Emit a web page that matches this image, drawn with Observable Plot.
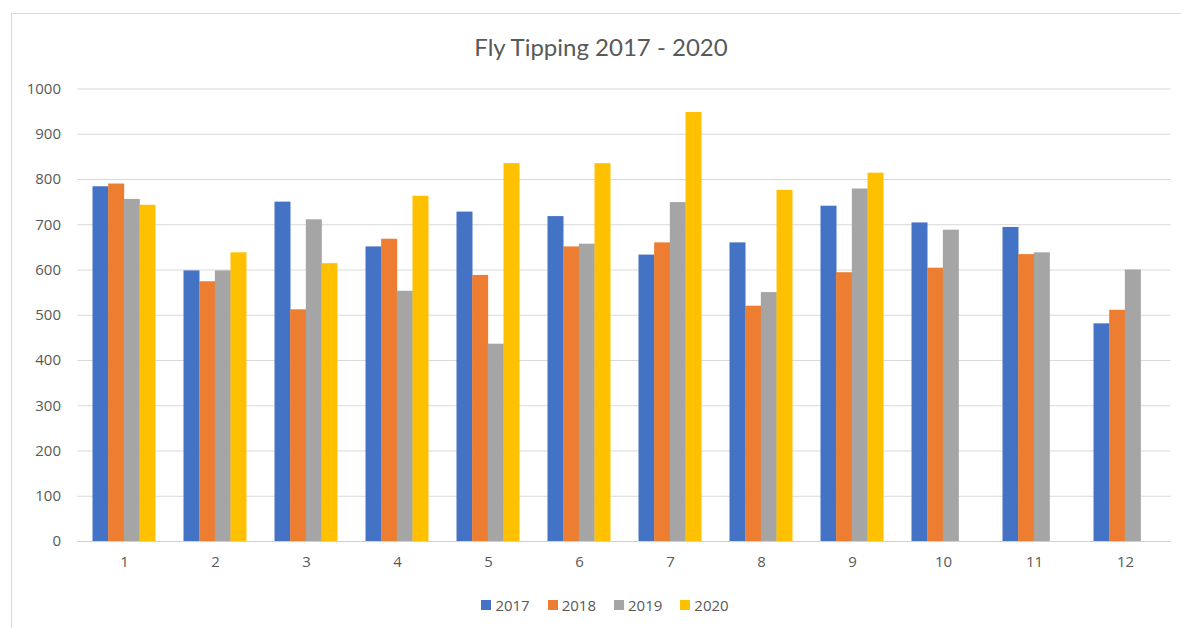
<!DOCTYPE html>
<html>
<head>
<meta charset="utf-8">
<script src="https://cdn.jsdelivr.net/npm/d3@7"></script>
<script src="https://cdn.jsdelivr.net/npm/@observablehq/plot@0.6"></script>
<style>
  html, body { margin: 0; padding: 0; background: #fff; }
  body { width: 1181px; height: 628px; position: relative; overflow: hidden; font-family: "Open Sans", sans-serif; }
  #frame { position: absolute; left: 11px; top: 13px; width: 1200px; height: 700px; border: 1px solid #d9d9d9; box-sizing: border-box; }
  #title { position: absolute; left: 0; width: 1202px; top: 32px; text-align: center; font-family: Lato, sans-serif; font-size: 24px; color: #595959; }
  #chart { position: absolute; left: 0; top: 70px; }
  #legend { position: absolute; left: 0; width: 1210px; top: 595px; display: flex; justify-content: center; font-size: 15px; color: #595959; }
  .item { display: flex; align-items: center; margin: 0 9px; }
  .sw { width: 10px; height: 10px; margin-right: 4px; }
</style>
</head>
<body>
<div id="frame"></div>
<div id="title">Fly Tipping 2017 - 2020</div>
<div id="chart"></div>
<div id="legend"></div>
<script>
const months = [1, 2, 3, 4, 5, 6, 7, 8, 9, 10, 11, 12];
const years = ["2017", "2018", "2019", "2020"];
const colors = ["#4472C4", "#ED7D31", "#A5A5A5", "#FFC000"];
const v2017 = [784, 598, 750, 651, 728, 718, 633, 660, 741, 704, 694, 481];
const v2018 = [790, 574, 512, 668, 588, 651, 660, 520, 594, 604, 634, 511];
const v2019 = [756, 598, 711, 553, 436, 657, 749, 550, 779, 688, 638, 600];
const v2020 = [743, 638, 614, 763, 835, 835, 948, 776, 814, null, null, null];
const yTicks = [0, 100, 200, 300, 400, 500, 600, 700, 800, 900, 1000];

const series = [v2017, v2018, v2019, v2020];
const data = [];
years.forEach((yr, i) => months.forEach((m, j) => {
  if (series[i][j] != null) data.push({month: m, year: yr, value: series[i][j]});
}));

const width = 1181, mL = 77.5, mR = 10.5;
const padInner = 0.828;
const bw = (width - mL - mR) / months.length * (1 - padInner);

const marks = [
  Plot.gridY(yTicks, {stroke: "#d9d9d9", strokeOpacity: 1, strokeWidth: 1}),
  ...years.map((yr, i) => Plot.barY(data.filter(d => d.year === yr), {
    x: "month", y: "value", fill: colors[i], dx: (i - 1.5) * bw
  })),
  Plot.ruleY([0], {stroke: "#d0d0d0", strokeWidth: 1})
];

const plot = Plot.plot({
  width: width,
  height: 511,
  marginLeft: mL,
  marginRight: mR,
  marginTop: 18.5,
  marginBottom: 40,
  style: {fontFamily: "Open Sans, sans-serif", fontSize: "15px", color: "#595959", background: "transparent"},
  x: {domain: months, type: "band", paddingInner: padInner, paddingOuter: padInner / 2, tickSize: 0, tickPadding: 15, label: null},
  y: {domain: [0, 1000], ticks: yTicks, tickSize: 0, tickPadding: 17, label: null, tickFormat: d => String(d)},
  marks
});
document.getElementById("chart").appendChild(plot);

const legend = document.getElementById("legend");
years.forEach((yr, i) => {
  const it = document.createElement("div");
  it.className = "item";
  const sw = document.createElement("div");
  sw.className = "sw";
  sw.style.background = colors[i];
  const t = document.createElement("span");
  t.textContent = yr;
  it.appendChild(sw); it.appendChild(t);
  legend.appendChild(it);
});
</script>
</body>
</html>
